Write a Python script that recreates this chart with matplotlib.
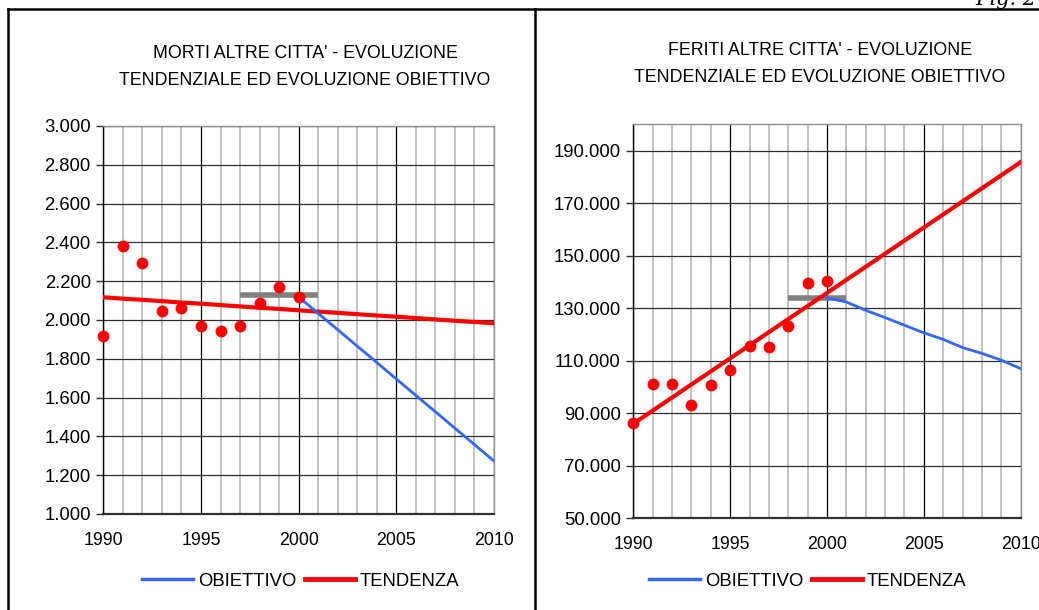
import matplotlib
matplotlib.use("Agg")
import matplotlib.pyplot as plt
import matplotlib.transforms as mtransforms
from matplotlib.ticker import MultipleLocator, FuncFormatter
from matplotlib.lines import Line2D

plt.rcParams['font.family'] = ['Liberation Sans', 'DejaVu Sans']

years = list(range(1990, 2011))
obs_years = list(range(1990, 2001))
obj_years = list(range(2000, 2011))

# --- MORTI ---
morti_obs = [1920, 2383, 2292, 2046, 2060, 1971, 1945, 1969, 2088, 2170, 2119]
morti_tend = [2117, 2110, 2104, 2097, 2090, 2084, 2077, 2070, 2063, 2057, 2050,
              2043, 2037, 2030, 2023, 2017, 2010, 2003, 1996, 1990, 1983]
morti_obj = [2119, 2034, 1950, 1865, 1781, 1696, 1611, 1527, 1442, 1358, 1273]
morti_media_years = [1997, 2001]
morti_media = [2129, 2129]

# --- FERITI ---
feriti_obs = [86100, 101000, 101300, 93000, 100800, 106300, 115500, 115400,
              123200, 139700, 140200]
feriti_tend = [86000, 90980, 95960, 100940, 105920, 110900, 115880, 120860,
               125840, 130820, 135800, 140780, 145760, 150740, 155720, 160700,
               165680, 170660, 175640, 180620, 185600]
feriti_obj = [133900, 132350, 129200, 126400, 123500, 120600, 118100, 115000,
              112750, 110200, 107000]
feriti_media_years = [1998, 2001]
feriti_media = [134000, 134000]

titles = ["MORTI ALTRE CITTA' - EVOLUZIONE\nTENDENZIALE ED EVOLUZIONE OBIETTIVO",
          "FERITI ALTRE CITTA' - EVOLUZIONE\nTENDENZIALE ED EVOLUZIONE OBIETTIVO"]
legend_labels = ["OBIETTIVO", "TENDENZA"]

W, H = 1039, 610
fig = plt.figure(figsize=(W / 100, H / 100), dpi=100)

def fx(px):
    return px / W

def fy(py):
    return 1 - py / H

# frame lines
fig.add_artist(Line2D([fx(8), fx(1045)], [fy(9), fy(9)], color='black', lw=1.8))
fig.add_artist(Line2D([fx(8), fx(8)], [fy(9), fy(615)], color='black', lw=1.8))
fig.add_artist(Line2D([fx(535), fx(535)], [fy(9), fy(615)], color='black', lw=1.8))
fig.text(fx(975), fy(5), "Fig. 2", fontsize=15, family='DejaVu Serif',
         style='italic', ha='left', va='baseline')

TICK_FS = 13.3
XTICK_FS = 12.8
TITLE_FS = 12.8

def thousands(v, pos):
    s = f"{int(round(v)):,}".replace(",", ".")
    return s

def make(ax, obs, tend, obj, myears, media, ymin, ymax, ystep, title, tx, ty, legx):
    ax.set_xlim(1990, 2010)
    ax.set_ylim(ymin, ymax)
    ax.xaxis.set_major_locator(MultipleLocator(5))
    ax.xaxis.set_minor_locator(MultipleLocator(1))
    if ymin == 50000:
        ax.set_yticks(list(range(50000, 200000, 20000)))
    else:
        ax.yaxis.set_major_locator(MultipleLocator(ystep))
    ax.yaxis.set_major_formatter(FuncFormatter(thousands))
    ax.grid(which='minor', axis='x', color='#b8b8b8', lw=1.2, zorder=0)
    ax.grid(which='major', axis='x', color='black', lw=0.9, zorder=0)
    ax.grid(which='major', axis='y', color='#303030', lw=0.9, zorder=0)
    ax.set_axisbelow(True)
    for s in ['top', 'right']:
        ax.spines[s].set_color('#909090')
        ax.spines[s].set_linewidth(1.0)
    ax.spines['left'].set_color('black')
    ax.spines['left'].set_linewidth(1.0)
    ax.spines['bottom'].set_color('#303030')
    ax.spines['bottom'].set_linewidth(1.6)
    ax.tick_params(axis='x', which='both', length=0, pad=13, labelsize=XTICK_FS)
    ax.tick_params(axis='y', which='major', length=5, width=1, pad=4, labelsize=TICK_FS,
                   color='#303030')
    ax.plot(myears, media, color='#808080', lw=4, solid_capstyle='butt', zorder=3)
    ax.plot(years, tend, color='#ff0000', lw=3, zorder=4)
    ax.plot(obj_years, obj, color='#3366ff', lw=2, zorder=5)
    ax.plot(obs_years, obs, 'o', color='#ff0000', ms=8.5, mec='none', zorder=6,
            clip_on=False)
    fig.text(fx(tx), fy(ty), title, ha='center', va='center', fontsize=TITLE_FS,
             linespacing=1.7)
    handles = [Line2D([], [], color='#3366ff', lw=2.5),
               Line2D([], [], color='#ff0000', lw=3.5)]
    fig.legend(handles, legend_labels, loc='center', bbox_to_anchor=(fx(legx), fy(581)),
               ncol=2, frameon=False, fontsize=TICK_FS, handlelength=2.75,
               handletextpad=0.25, columnspacing=0.45, borderaxespad=0)

ax1 = fig.add_axes([fx(103.3), fy(514), fx(494 - 103.3), (514 - 126) / H])
make(ax1, morti_obs, morti_tend, morti_obj, morti_media_years, morti_media,
     1000, 3000, 200, titles[0], 305, 67, 301)

ax2 = fig.add_axes([fx(633.3), fy(518.3), fx(1020.7 - 633.3), (518.3 - 124.3) / H])
make(ax2, feriti_obs, feriti_tend, feriti_obj, feriti_media_years, feriti_media,
     50000, 200000, 20000, titles[1], 820, 64, 808)

# nudge the right chart's last year label slightly left so it stays inside
shift = mtransforms.ScaledTranslation(-3 / 100, 0, fig.dpi_scale_trans)
for tick in ax2.xaxis.get_major_ticks():
    if abs(tick.get_loc() - 2010) < 1e-6:
        tick.label1.set_transform(tick.label1.get_transform() + shift)

fig.savefig("out.png", dpi=100)
